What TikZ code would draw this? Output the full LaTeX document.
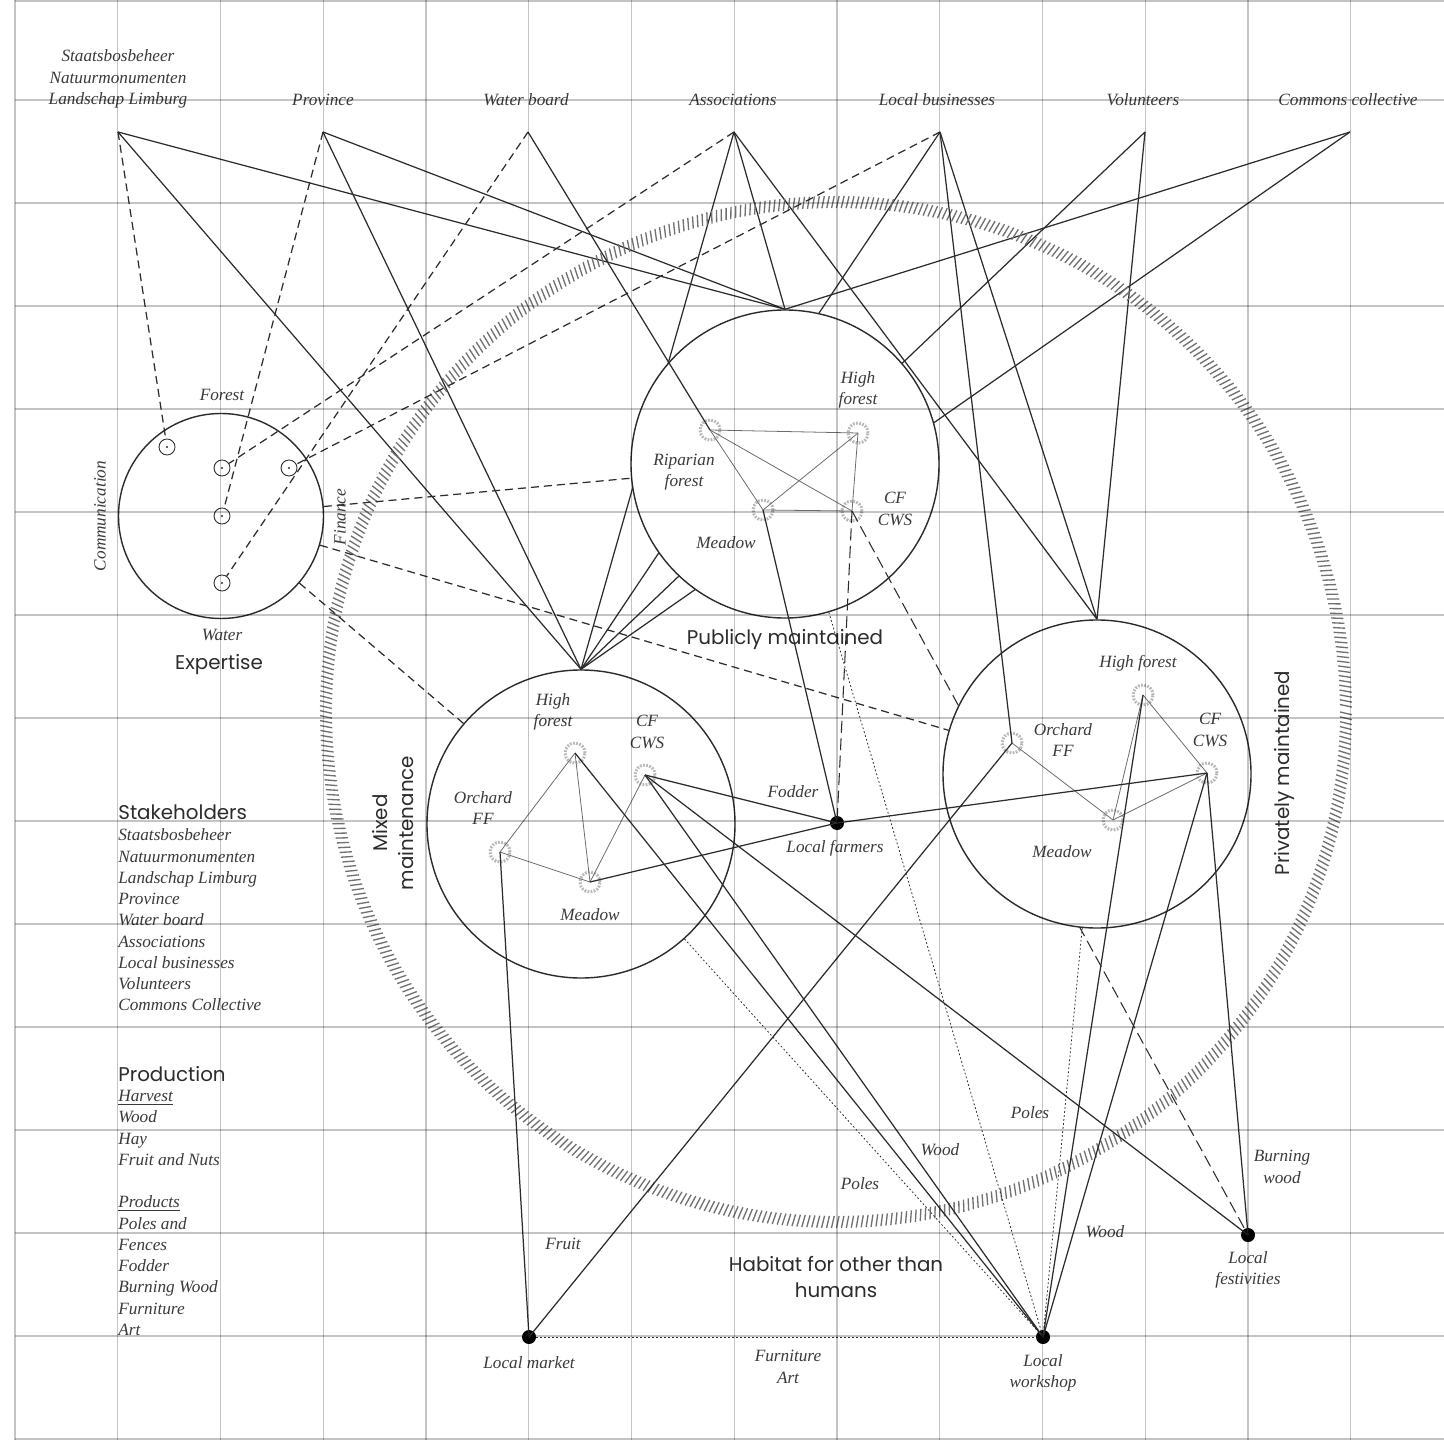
\documentclass[tikz,border=0pt]{standalone}
\usepackage{fontspec}
\newfontfamily\gothic{Poppins}
\newfontfamily\serifit{Liberation Serif}
\usetikzlibrary{positioning}
\pgfdeclarelayer{back}
\pgfdeclarelayer{front}
\pgfsetlayers{back,main,front}
\definecolor{ink}{HTML}{2C2C2C}
\definecolor{softink}{HTML}{3A3A3A}
\definecolor{gridgray}{HTML}{C4C4C4}
\definecolor{hatchgray}{HTML}{707070}
\definecolor{geargray}{HTML}{B8B8B8}
\newcommand\labfont{\serifit\fontsize{9.8}{12.1}\selectfont\itshape}
\newcommand\headfont{\gothic\fontsize{11.3}{14.6}\selectfont}

\begin{document}
\begin{tikzpicture}[
    x=0.2mm, y=-0.2mm,
    lbl/.style={font=\labfont, text=softink, align=center, inner sep=0pt},
    head/.style={font=\headfont, text=ink, align=center, inner sep=0pt},
    zone/.style={circle, draw=ink, fill=white, line width=0.8pt,
                 minimum size=61.6mm, inner sep=0pt},
    gear/.style={circle, draw=geargray, line width=1.7pt,
                 dash pattern=on 1pt off 0.8pt, minimum size=4mm, inner sep=0pt},
    ring/.style={circle, draw=ink, line width=0.5pt, minimum size=3.2mm, inner sep=0pt},
    spot/.style={circle, fill=black, minimum size=2.8mm, inner sep=0pt},
    link/.style={draw=ink, line width=0.7pt},
    fine/.style={draw=gray!85!black, line width=0.45pt},
    dashlink/.style={draw=ink, line width=0.7pt, dash pattern=on 1.6mm off 1mm},
    longdash/.style={draw=ink, line width=0.6pt, dash pattern=on 2.4mm off 1.1mm},
    dotlink/.style={draw=ink, line width=0.45pt, dash pattern=on 0.35mm off 0.45mm},
    hatchtick/.style={draw=hatchgray, line width=0.75pt},
    gridline/.style={draw=gridgray, line width=0.6pt}
  ]

  % ---- Canvas ----
  \useasboundingbox (0,0) rectangle (1444,1440);
  \begin{pgfonlayer}{back}
    \fill[white] (0,0) rectangle (1444,1440);
  \end{pgfonlayer}

  % ---- Habitat ring (slanted ticks) ----
  \foreach \a in {0,0.55,...,359.6}
    \draw[hatchtick] ({836+504*cos(\a)},{712+504*sin(\a)})
      -- ({836+516*cos(\a+0.3)},{712+516*sin(\a+0.3)});

  % ---- Stakeholders (top row) ----
  \node[lbl] (sbb) at (118,79) {Staatsbosbeheer\\Natuurmonumenten\\Landschap Limburg};
  \node[lbl] (prov) at (323,100) {Province};
  \node[lbl] (wb) at (526,100) {Water board};
  \node[lbl] (assoc) at (733,100) {Associations};
  \node[lbl] (bus) at (937,100) {Local businesses};
  \node[lbl] (vol) at (1143,100) {Volunteers};
  \node[lbl] (com) at (1348,100) {Commons collective};
  \foreach \n/\x in {sbb/118,prov/323,wb/528,assoc/734,bus/940,vol/1145,com/1350}
    \coordinate (\n-p) at (\x,132);

  % ---- Expertise ----
  \node[circle, draw=ink, line width=0.8pt, minimum size=41mm, inner sep=0pt]
    (expt) at (221,516) {};
  \node[ring] (ecom) at (167,447) {};
  \node[ring] (efor) at (222,468) {};
  \node[ring] (efin) at (289,468) {};
  \node[ring] (emid) at (222,516) {};
  \node[ring] (ewat) at (222,583) {};
  \foreach \r in {ecom,efor,efin,emid,ewat}
    \fill[ink] (\r) circle (0.22mm);
  \node[lbl] (eforlbl) at (222,395) {Forest};
  \node[lbl] (ewatlbl) at (222,635) {Water};
  \node[lbl, rotate=90] (ecomlbl) at (100,516) {Communication};
  \node[lbl, rotate=90] (efinlbl) at (340,517) {Finance};
  \node[head] (exptlbl) at (219,665) {Expertise};

  % ---- Local actors ----
  \node[spot] (farm) at (837,823) {};
  \node[spot] (market) at (529,1337) {};
  \node[spot] (shop) at (1043,1337) {};
  \node[spot] (fest) at (1248,1235) {};
  \node[lbl] (farmlbl) at (835,848) {Local farmers};
  \node[lbl] (marketlbl) at (529,1363) {Local market};
  \node[lbl] (shoplbl) at (1043,1373) {Local\\workshop};
  \node[lbl] (festlbl) at (1248,1270) {Local\\festivities};

  % ---- Mixed maintenance ----
  \node[zone] (mix) at (581,824) {};
  \node[gear] (mixHF) at (575,753) {};
  \node[gear] (mixCF) at (645,775) {};
  \node[gear] (mixOr) at (500,852) {};
  \node[gear] (mixMea) at (590,882) {};
  \node[lbl] at (553,712) {High\\forest};
  \node[lbl] at (647,732) {CF\\CWS};
  \node[lbl] at (483,808) {Orchard\\FF};
  \node[lbl] at (590,915) {Meadow};
  \node[head, rotate=90] (mixlbl) at (393,823) {Mixed\\maintenance};
  \draw[fine] (mixHF.center) -- (mixOr.center);
  \draw[fine] (mixHF.center) -- (mixMea.center);
  \draw[fine] (mixCF.center) -- (mixMea.center);
  \draw[fine] (mixOr.center) -- (mixMea.center);

  % ---- Publicly maintained ----
  \node[zone] (pub) at (785,464) {};
  \node[gear] (pubRip) at (710,430) {};
  \node[gear] (pubHF) at (858,433) {};
  \node[gear] (pubMea) at (763,510) {};
  \node[gear] (pubCF) at (852,511) {};
  \node[lbl] at (858,390) {High\\forest};
  \node[lbl] at (684,472) {Riparian\\forest};
  \node[lbl] at (726,543) {Meadow};
  \node[lbl] at (895,509) {CF\\CWS};
  \node[head] (publbl) at (785,640) {Publicly maintained};
  \draw[fine] (pubRip.center) -- (pubHF.center);
  \draw[fine] (pubRip.center) -- (pubCF.center);
  \draw[fine] (pubRip.center) -- (pubMea.center);
  \draw[fine] (pubMea.center) -- (pubHF.center);
  \draw[fine] (pubMea.center) -- (pubCF.center);
  \draw[fine] (pubHF.center) -- (pubCF.center);
  \draw[link] (wb-p) -- (pubRip.center);
  \draw[link] (pubMea.center) -- (farm.center);
  \draw[longdash] (pubCF.center) -- (farm.center);
  \draw[longdash] (pubCF.center) -- (fest.center);
  \draw[dotlink] (pub) -- (shop.center);

  % ---- Privately maintained ----
  \node[zone] (priv) at (1097,774) {};
  \node[gear] (privHF) at (1143,695) {};
  \node[gear] (privOr) at (1012,743) {};
  \node[gear] (privCF) at (1207,773) {};
  \node[gear] (privMea) at (1113,820) {};
  \node[lbl] at (1138,663) {High forest};
  \node[lbl] at (1063,740) {Orchard\\FF};
  \node[lbl] at (1210,730) {CF\\CWS};
  \node[lbl] at (1062,852) {Meadow};
  \node[head, rotate=90] (privlbl) at (1284,773) {Privately maintained};
  \draw[fine] (privOr.center) -- (privMea.center);
  \draw[fine] (privMea.center) -- (privCF.center);
  \draw[fine] (privHF.center) -- (privCF.center);
  \draw[fine] (privHF.center) -- (privMea.center);
  \draw[link] (bus-p) -- (privOr.center);
  \draw[dotlink] (priv) -- (shop.center);

  % ---- Stakeholders to maintenance zones (behind the circles) ----
  \begin{pgfonlayer}{back}
    \foreach \s/\z in {sbb/pub,sbb/mix,prov/pub,prov/mix,assoc/pub,assoc/mix,
                       assoc/priv,bus/mix,bus/priv,vol/mix,vol/priv,com/pub,com/mix}
      \draw[link] (\s-p) -- (\z.north);
  \end{pgfonlayer}

  % ---- Stakeholders to expertise ----
  \draw[dashlink] (sbb-p) -- (ecom);
  \draw[dashlink] (prov-p) -- (emid);
  \draw[dashlink] (wb-p) -- (ewat);
  \draw[dashlink] (assoc-p) -- (efor);
  \draw[dashlink] (bus-p) -- (efin);
  \foreach \z in {pub,mix,priv}
    \draw[dashlink] (expt) -- (\z);

  % ---- Products to local actors ----
  \draw[link] (mixOr.center) -- (market.center);
  \draw[link] (mixHF.center) -- (shop.center);
  \draw[link] (mixCF.center) -- (shop.center);
  \draw[link] (mixCF.center) -- (fest.center);
  \draw[link] (mixCF.center) -- (farm.center);
  \draw[link] (mixMea.center) -- (farm.center);
  \draw[dotlink] (mix) -- (shop.center);
  \draw[link] (farm.center) -- (privCF.center);
  \draw[link] (privOr.center) -- (market.center);
  \draw[link] (privHF.center) -- (shop.center);
  \draw[link] (privCF.center) -- (shop.center);
  \draw[link] (privCF.center) -- (fest.center);
  \draw[dotlink] (market) -- (shop);

  % ---- Product labels ----
  \node[lbl] (fodder) at (793,792) {Fodder};
  \node[lbl] (fruit) at (563,1244) {Fruit};
  \node[lbl] (poles1) at (860,1184) {Poles};
  \node[lbl] (poles2) at (1030,1113) {Poles};
  \node[lbl] (wood1) at (940,1150) {Wood};
  \node[lbl] (wood2) at (1105,1232) {Wood};
  \node[lbl] (burn) at (1282,1167) {Burning\\wood};
  \node[lbl] (furn) at (788,1367) {Furniture\\Art};
  \node[head] (habitat) at (836,1277) {Habitat for other than\\humans};

  % ---- Legend ----
  \node[head, anchor=west] (stkh) at (118,812) {Stakeholders};
  \node[lbl, align=left, anchor=west] (stkhlist) at (118,920)
    {Staatsbosbeheer\\Natuurmonumenten\\Landschap Limburg\\Province\\Water board\\
     Associations\\Local businesses\\Volunteers\\Commons Collective};
  \node[head, anchor=west] (prod) at (118,1074) {Production};
  \node[lbl, align=left, anchor=west] (prodlist) at (118,1213)
    {\underline{Harvest}\\Wood\\Hay\\Fruit and Nuts\\[12pt]\underline{Products}\\
     Poles and\\Fences\\Fodder\\Burning Wood\\Furniture\\Art};

  % ---- Grid (over everything, multiplied) ----
  \begin{pgfonlayer}{front}
    \begin{scope}[blend mode=multiply]
      \foreach \i in {0,...,13}
        \draw[gridline] ({15+102.75*\i},0) -- ({15+102.75*\i},1440);
      \foreach \j in {1,...,14}
        \draw[gridline] (15,{-3+103*\j}) -- (1444,{-3+103*\j});
      \draw[gridline] (15,1) -- (1444,1);
    \end{scope}
  \end{pgfonlayer}

\end{tikzpicture}
\end{document}
